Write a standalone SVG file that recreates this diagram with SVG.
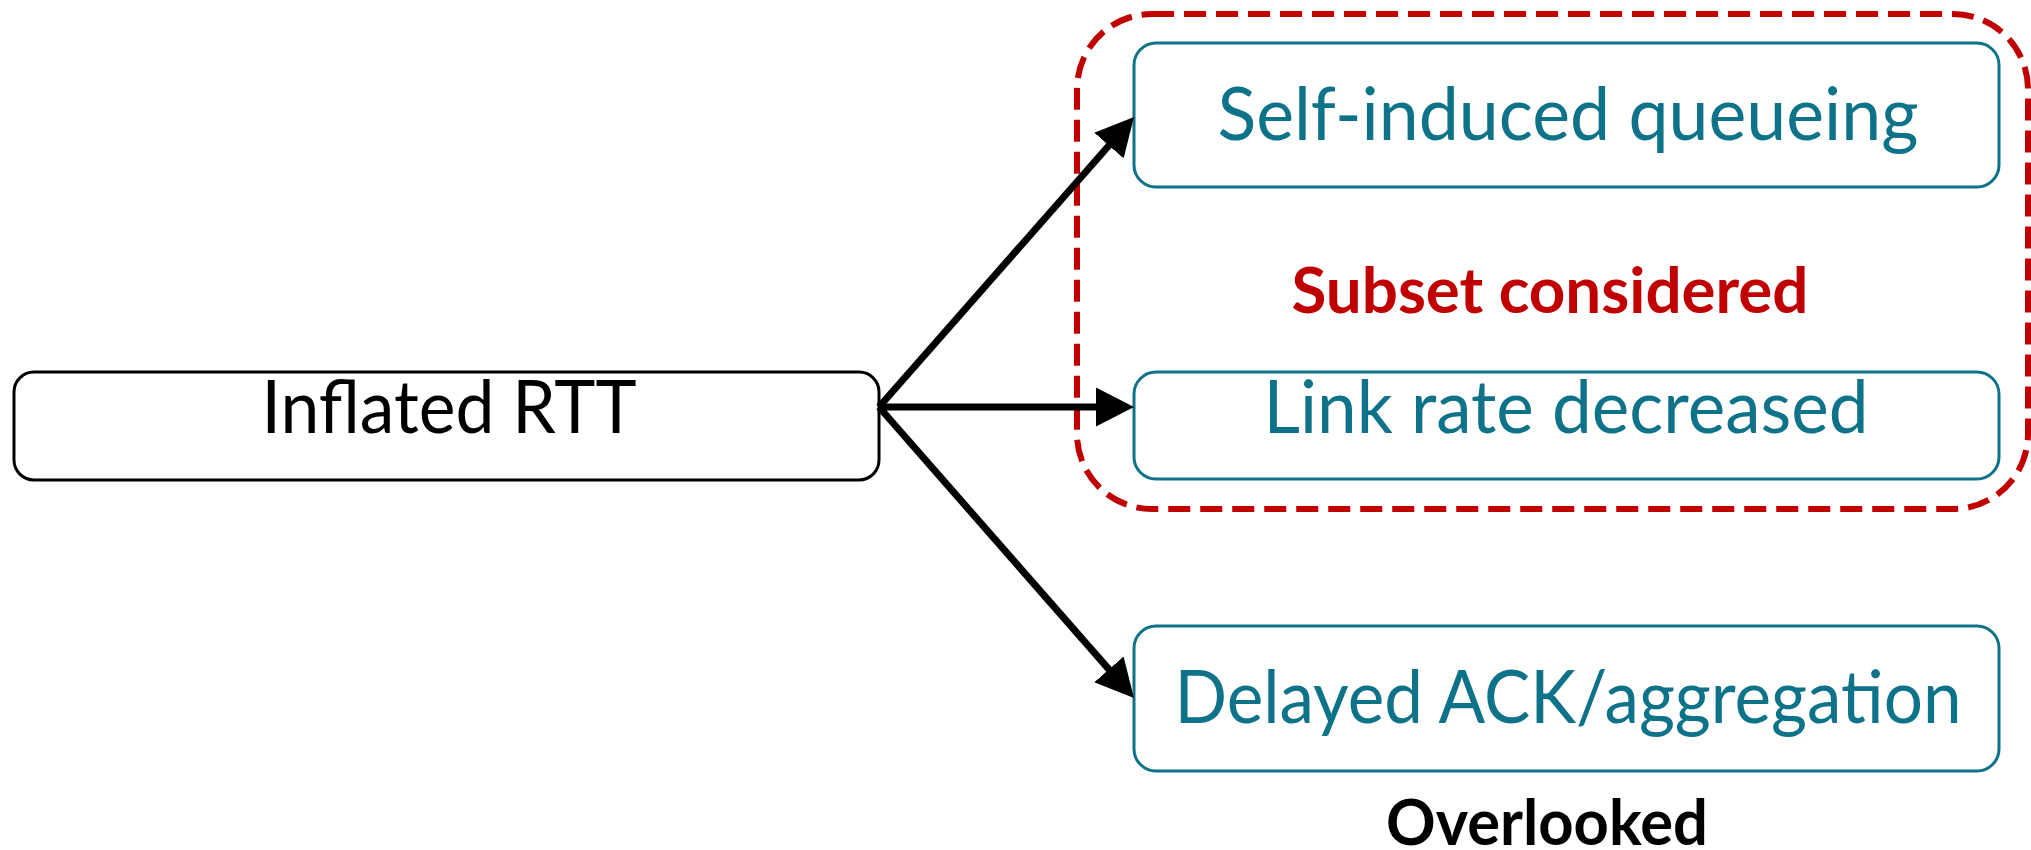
<svg xmlns="http://www.w3.org/2000/svg" width="2031" height="850" viewBox="0 0 2031 850">
  <style>
    .node-black { fill: #ffffff; stroke: #000000; stroke-width: 3; }
    .node-teal { fill: #ffffff; stroke: #0E7388; stroke-width: 3; }
    .label { font-family: "Lato", "Noto Sans", "Liberation Sans", sans-serif; font-size: 74px; text-anchor: middle; }
    .label-teal { fill: #0E7388; }
    .label-black { fill: #000000; }
    .note { font-family: "Lato", "Noto Sans", "Liberation Sans", sans-serif; font-weight: bold; font-size: 64px; text-anchor: middle; }
    .edge { fill: none; stroke: #000000; stroke-width: 7; marker-end: url(#block); }
    .group-box { fill: none; stroke: #C00000; stroke-width: 6; stroke-dasharray: 22 10; }
  </style>
  <defs>
    <marker id="block" markerUnits="userSpaceOnUse" markerWidth="38" markerHeight="39" refX="8" refY="19.5" orient="auto" viewBox="0 0 38 39">
      <path d="M0,0 L38,19.5 L0,39 Z" fill="#000000"/>
    </marker>
  </defs>

  <rect width="2031" height="850" fill="#ffffff"/>

  <!-- dashed grouping around the considered causes -->
  <g id="subset-group">
    <rect class="group-box" x="1077" y="14" width="951" height="495" rx="75" ry="75"/>
    <text class="note" x="1550" y="313" fill="#C00000" font-size="69" textLength="517" lengthAdjust="spacingAndGlyphs">Subset considered</text>
  </g>

  <g id="inflated-rtt">
    <rect class="node-black" x="14" y="372" width="865" height="108" rx="20" ry="20"/>
    <text class="label label-black" x="449" y="433" textLength="375" lengthAdjust="spacingAndGlyphs">Inflated RTT</text>
  </g>

  <g id="self-induced-queueing">
    <rect class="node-teal" x="1134" y="43" width="865" height="144" rx="22" ry="22"/>
    <text class="label label-teal" x="1568" y="140" textLength="701" lengthAdjust="spacingAndGlyphs">Self-induced queueing</text>
  </g>

  <g id="link-rate-decreased">
    <rect class="node-teal" x="1134" y="372" width="865" height="107" rx="22" ry="22"/>
    <text class="label label-teal" x="1566" y="433" textLength="605" lengthAdjust="spacingAndGlyphs">Link rate decreased</text>
  </g>

  <g id="delayed-ack">
    <rect class="node-teal" x="1134" y="626" width="865" height="145" rx="22" ry="22"/>
    <text class="label label-teal" x="1568" y="723" textLength="787" lengthAdjust="spacingAndGlyphs">Delayed ACK/aggregation</text>
  </g>

  <g id="overlooked-label">
    <text class="note" x="1547" y="845" fill="#000000" textLength="322" lengthAdjust="spacingAndGlyphs">Overlooked</text>
  </g>

  <!-- connectors from the symptom to each cause -->
  <g id="connectors">
    <line class="edge" x1="879" y1="407" x2="1114.2" y2="139.5"/>
    <line class="edge" x1="879" y1="407" x2="1104" y2="407"/>
    <line class="edge" x1="879" y1="407" x2="1114.2" y2="675.4"/>
  </g>
</svg>
